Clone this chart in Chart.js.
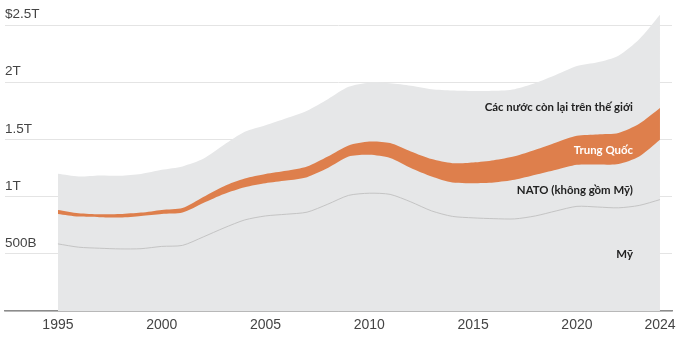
<!DOCTYPE html>
<html><head><meta charset="utf-8">
<script src="https://cdn.jsdelivr.net/npm/chart.js@4.4.1/dist/chart.umd.min.js"></script>
<style>html,body{margin:0;padding:0;background:#fff}#wrap{width:680px;height:339px;position:relative}</style>
</head><body><div id="wrap"><canvas id="c"></canvas></div>
<script>
// Military spending, billions of USD
const years = [1995,1996,1997,1998,1999,2000,2001,2002,2003,2004,2005,2006,2007,2008,2009,2010,2011,2012,2013,2014,2015,2016,2017,2018,2019,2020,2021,2022,2023,2024];
const usSpend = [588,559,550,544,546,566,575,649,728,798,833,848,866,936,1013,1032,1022,956,877,829,816,809,807,833,877,917,911,904,925,976];
const natoExUS = [263,268,272,275,287,285,288,298,298,287,287,295,307,316,340,336,318,296,301,296,304,317,342,360,360,364,373,383,428,524];
const china = [35,30,26,30,29,35,39,52,68,75,80,85,93,102,98,117,132,146,153,170,181,195,206,219,239,254,263,272,287,278];
const restOfWorld = [316,321,340,336,339,351,365,334,362,410,427,461,489,502,513,515,523,575,612,637,627,608,589,585,594,611,632,678,741,818];

const yTickValues = [0,500,1000,1500,2000,2500];
const yTickLabels = ['','500B','1T','1.5T','2T','$2.5T'];
const xTickValues = [1995,2000,2005,2010,2015,2020,2024];

const seriesLabels = [
  {text:'Các nước còn lại trên thế giới', x:2022.7, y:1781, color:'#222222'},
  {text:'Trung Quốc', x:2022.7, y:1412, color:'#ffffff'},
  {text:'NATO (không gồm Mỹ)', x:2022.7, y:1061, color:'#222222'},
  {text:'Mỹ', x:2022.7, y:500, color:'#222222'}
];

// cumulative stacks
const usTop = usSpend.slice();
const natoTop = usTop.map((v,i)=>v+natoExUS[i]);
const chinaTop = natoTop.map((v,i)=>v+china[i]);
const total = chinaTop.map((v,i)=>v+restOfWorld[i]);
const pts = arr => years.map((yr,i)=>({x:yr,y:arr[i]}));

const labelPlugin = {
  id:'seriesLabels',
  afterDatasetsDraw(chart){
    const {ctx, scales:{x,y}} = chart;
    ctx.save();
    ctx.font = 'bold 11.4px Lato';
    ctx.textAlign = 'right';
    ctx.textBaseline = 'middle';
    seriesLabels.forEach(l=>{
      ctx.fillStyle = l.color;
      ctx.fillText(l.text, x.getPixelForValue(l.x), y.getPixelForValue(l.y));
    });
    ctx.restore();
  }
};

new Chart(document.getElementById('c'), {
  type:'line',
  data:{datasets:[
    {label:'Mỹ', data:pts(usTop), borderColor:'#c4c4c4', borderWidth:1, fill:false, pointRadius:0, tension:0.25},
    {label:'Trung Quốc', data:pts(chinaTop), borderWidth:0, borderColor:'#de7f4c', backgroundColor:'#de7f4c', fill:'+1', pointRadius:0, tension:0.25},
    {label:'NATO (không gồm Mỹ)', data:pts(natoTop), borderWidth:0, fill:false, pointRadius:0, tension:0.25},
    {label:'Các nước còn lại trên thế giới', data:pts(total), borderWidth:0, backgroundColor:'#e6e7e8', fill:'origin', pointRadius:0, tension:0.25}
  ]},
  options:{
    responsive:true, maintainAspectRatio:false, animation:false, devicePixelRatio:1,
    layout:{padding:{top:0,right:8,bottom:0,left:0}},
    plugins:{legend:{display:false}, tooltip:{enabled:false}},
    scales:{
      x:{type:'linear', min:1992.45, max:2024.58, z:1,
        afterBuildTicks:s=>{s.ticks = xTickValues.map(v=>({value:v}));},
        afterFit:s=>{s.height=28; s.paddingLeft=0; s.paddingRight=0;},
        grid:{display:false, drawTicks:false},
        border:{display:true, color:'#8c8c8c', width:1.5},
        ticks:{autoSkip:false, maxRotation:0, padding:6, color:'#444', font:{family:'Liberation Sans', size:14}, callback:v=>String(v)}
      },
      y:{min:0, max:2725,
        afterBuildTicks:s=>{s.ticks = yTickValues.map(v=>({value:v}));},
        afterFit:s=>{s.width=5; s.paddingTop=0; s.paddingBottom=0;},
        grid:{color:'#e4e4e4', lineWidth:1, drawTicks:false},
        border:{display:false},
        ticks:{mirror:true, padding:0, labelOffset:-11, color:'#444', font:{family:'Liberation Sans', size:13.5},
          callback:(v)=>yTickLabels[yTickValues.indexOf(v)]}
      }
    }
  },
  plugins:[labelPlugin]
});
</script></body></html>
